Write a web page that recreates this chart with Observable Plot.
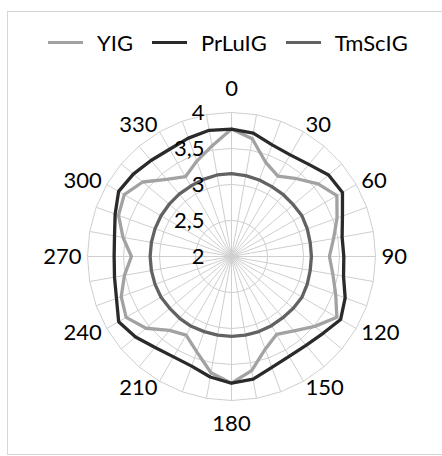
<!DOCTYPE html>
<html>
<head>
<meta charset="utf-8">
<script src="https://cdn.jsdelivr.net/npm/d3@7"></script>
<script src="https://cdn.jsdelivr.net/npm/@observablehq/plot@0.6"></script>
<style>
  html, body { margin: 0; padding: 0; background: #fff; }
  body { width: 442px; height: 456px; position: relative; overflow: hidden; font-family: Lato, "Open Sans", sans-serif; color: #000; }
  #frame { position: absolute; left: 7px; top: 11px; width: 436px; height: 444px; box-sizing: border-box; border: 1px solid #d6d6d6; pointer-events: none; }
  #legend { height: 62px; box-sizing: border-box; padding-top: 22px; padding-left: 48px; display: flex; align-items: center; font-size: 22px; }
  .item { display: flex; align-items: center; margin-right: 19px; }
  .sw { width: 35px; height: 3px; margin-right: 14px; }
  #chart svg { display: block; }
</style>
</head>
<body>
<div id="frame"></div>
<div id="legend"></div>
<div id="chart"></div>
<script>
// ---- data ----
const angles = d3.range(0, 360, 10);
const seriesNames = ["YIG", "PrLuIG", "TmScIG"];
const seriesColors = ["#a2a2a2", "#2a2a2a", "#626262"];
const yig = [3.77, 3.66, 3.39, 3.29, 3.41, 3.57, 3.69, 3.56, 3.44, 3.36, 3.43, 3.54,
             3.69, 3.51, 3.35, 3.25, 3.37, 3.61, 3.76, 3.64, 3.41, 3.26, 3.34, 3.55,
             3.69, 3.63, 3.51, 3.39, 3.53, 3.67, 3.72, 3.61, 3.40, 3.28, 3.41, 3.56];
const prluig = [3.77, 3.74, 3.65, 3.63, 3.67, 3.76, 3.78, 3.64, 3.56, 3.56, 3.58, 3.68,
                3.75, 3.66, 3.61, 3.60, 3.64, 3.73, 3.76, 3.70, 3.62, 3.61, 3.65, 3.74,
                3.81, 3.70, 3.65, 3.63, 3.65, 3.72, 3.81, 3.78, 3.74, 3.72, 3.75, 3.78];
const tmscig = [3.15, 3.14, 3.13, 3.12, 3.12, 3.12, 3.13, 3.12, 3.11, 3.11, 3.11, 3.12,
                3.13, 3.12, 3.11, 3.11, 3.11, 3.11, 3.11, 3.11, 3.11, 3.12, 3.12, 3.12,
                3.13, 3.13, 3.13, 3.13, 3.13, 3.13, 3.13, 3.13, 3.13, 3.13, 3.14, 3.15];
const radialTicks = [2, 2.5, 3, 3.5, 4];
const radialTickLabels = ["2", "2,5", "3", "3,5", "4"];
const angleLabels = d3.range(0, 360, 30);
const rMin = 2, rMax = 4;

// ---- geometry helpers (polar -> cartesian, in data units) ----
const rad = a => a * Math.PI / 180;
const px = (a, v) => (v - rMin) * Math.sin(rad(a));
const py = (a, v) => (v - rMin) * Math.cos(rad(a));

const seriesValues = [yig, prluig, tmscig];
const rows = seriesNames.flatMap((s, i) => angles.map((a, j) => ({series: s, angle: a, value: seriesValues[i][j]})));
const ringPts = radialTicks.slice(1).flatMap(v => angles.map(a => ({ring: v, angle: a})));

// legend
const leg = document.getElementById("legend");
seriesNames.forEach((s, i) => {
  const it = document.createElement("div"); it.className = "item";
  const sw = document.createElement("div"); sw.className = "sw"; sw.style.background = seriesColors[i];
  const tx = document.createElement("span"); tx.textContent = s;
  it.appendChild(sw); it.appendChild(tx); leg.appendChild(it);
});

const W = 442, H = 394, cx = 231, cy = 194, k = 72; // px per unit
const labR = rMax + 8 / k;
const fs = 22;

const chart = Plot.plot({
  width: W, height: H,
  margin: 0,
  style: {fontFamily: "Lato, 'Open Sans', sans-serif", background: "#fff", color: "#000"},
  x: {domain: [-cx / k, (W - cx) / k], range: [0, W], axis: null},
  y: {domain: [-(H - cy) / k, cy / k], range: [H, 0], axis: null},
  color: {domain: seriesNames, range: seriesColors},
  marks: [
    Plot.link(angles, {x1: () => 0, y1: () => 0, x2: a => px(a, rMax), y2: a => py(a, rMax), stroke: "#cfcfcf", strokeWidth: 1}),
    Plot.line(ringPts, {x: d => px(d.angle, d.ring), y: d => py(d.angle, d.ring), z: "ring", curve: "linear-closed", stroke: "#cfcfcf", strokeWidth: 1}),
    Plot.line(rows, {x: d => px(d.angle, d.value), y: d => py(d.angle, d.value), z: "series", stroke: "series", curve: "linear-closed", strokeWidth: 3.3, strokeLinejoin: "round"}),
    Plot.text(angleLabels.filter(a => a > 0 && a < 180), {x: a => px(a, labR), y: a => py(a, labR), text: a => String(a), textAnchor: "start", dx: -2, fontSize: fs, fill: "#000"}),
    Plot.text(angleLabels.filter(a => a > 180), {x: a => px(a, labR), y: a => py(a, labR), text: a => String(a), textAnchor: "end", dx: 2, fontSize: fs, fill: "#000"}),
    Plot.text(angleLabels.filter(a => a === 0), {x: a => px(a, labR), y: a => py(a, labR), text: a => String(a), textAnchor: "middle", dy: -16, fontSize: fs, fill: "#000"}),
    Plot.text(angleLabels.filter(a => a === 180), {x: a => px(a, labR), y: a => py(a, labR), text: a => String(a), textAnchor: "middle", dy: 15, fontSize: fs, fill: "#000"}),
    Plot.text(radialTicks, {x: () => 0, y: v => v - rMin, text: (v, i) => radialTickLabels[i], textAnchor: "end", dx: -27, fontSize: fs, fill: "#000"})
  ]
});
document.getElementById("chart").appendChild(chart);
</script>
</body>
</html>
